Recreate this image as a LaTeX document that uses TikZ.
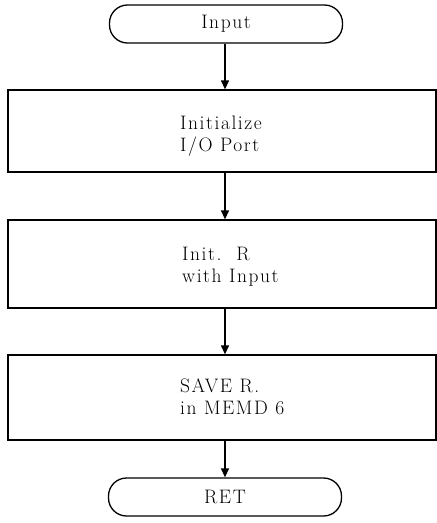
\documentclass[tikz,border=0pt]{standalone}
\usepackage{fontspec}
\setmainfont{Latin Modern Roman}[LetterSpace=8]
\usetikzlibrary{arrows.meta}
\begin{document}
\begin{tikzpicture}[x=1pt,y=-1pt,
  term/.style={draw,line width=1.3pt,rounded corners=18pt,minimum width=233pt,minimum height=38pt,inner sep=0pt,font=\fontsize{19.5}{22}\selectfont},
  procbox/.style={draw,line width=1.3pt,minimum width=428pt,inner sep=0pt},
  lbl/.style={anchor=west,font=\fontsize{19.5}{22}\selectfont,align=left,inner sep=0pt},
  flow/.style={line width=1.3pt,-{Triangle[length=9pt,width=8pt]}}]
\useasboundingbox (0,0) rectangle (437,523);
\node[term] (in) at (226,24) {Input};
\node[procbox,minimum height=82pt] (b1) at (222,131) {};
\node[lbl] (t1) at (180,136) {Initialize\\I/O Port};
\node[procbox,minimum height=88pt] (b2) at (222,264) {};
\node[lbl] (t2) at (182,267) {Init.\ \ R\\with Input};
\node[procbox,minimum height=85pt] (b3) at (222,397.5) {};
\node[lbl] (t3) at (180,397) {SAVE R.\\in MEMD 6};
\node[term] (ret) at (225,497) {RET};
\draw[flow] (in.south -| 225,0) -- (b1.north -| 225,0);
\draw[flow] (b1.south -| 225,0) -- (b2.north -| 225,0);
\draw[flow] (b2.south -| 225,0) -- (b3.north -| 225,0);
\draw[flow] (b3.south -| 225,0) -- (ret.north -| 225,0);
\end{tikzpicture}
\end{document}
